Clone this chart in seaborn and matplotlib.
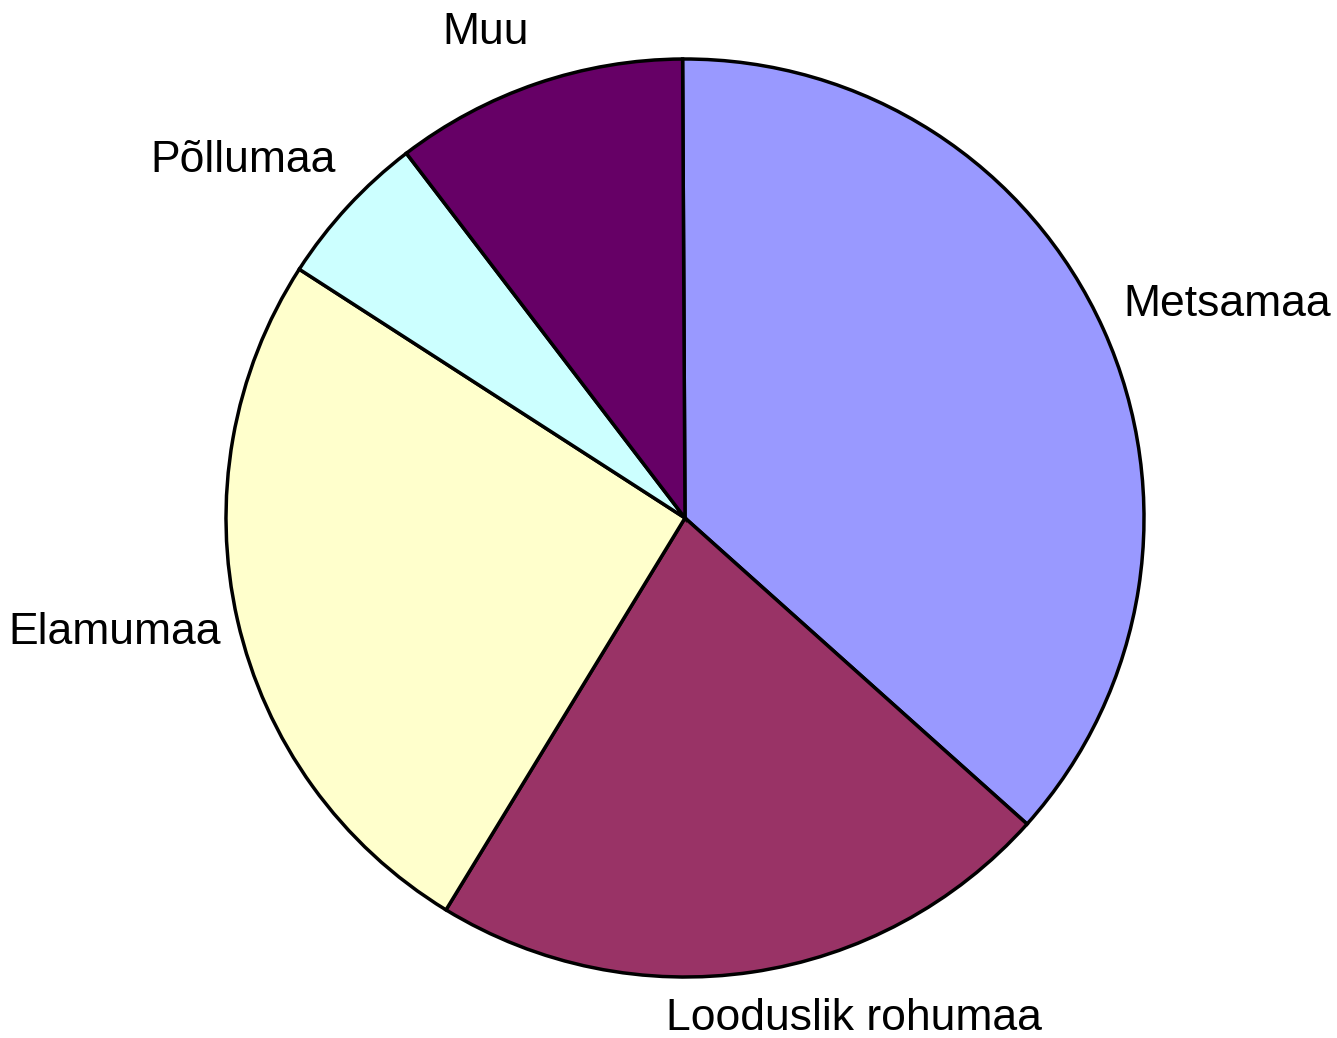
import matplotlib
matplotlib.use("Agg")
import matplotlib.pyplot as plt
import seaborn as sns

# ---- data ----
categories = ["Metsamaa", "Looduslik rohumaa", "Elamumaa", "Põllumaa", "Muu"]
values = [36.7, 22.1, 25.4, 5.5, 10.3]
colors = ["#9999FF", "#993366", "#FFFFCC", "#CCFFFF", "#660066"]

sns.set_theme(style="white")
plt.rcParams["font.family"] = ["Liberation Sans", "DejaVu Sans"]

W, H, DPI = 1337, 1038, 100
fig = plt.figure(figsize=(W / DPI, H / DPI), dpi=DPI)
ax = fig.add_axes([0, 0, 1, 1])

# layout: pie centre and radius in pixels
cx, cy, R = 685, 518, 459

wedges, texts = ax.pie(
    values,
    labels=categories,
    colors=colors,
    startangle=90.3,
    counterclock=False,
    radius=1,
    center=(0, 0),
    wedgeprops=dict(edgecolor="black", linewidth=2.5),
    textprops=dict(fontsize=32, color="black"),
)

ax.set_xlim(-cx / R, (W - cx) / R)
ax.set_ylim(-(H - cy) / R, cy / R)
ax.set_aspect("equal")
ax.axis("off")

# label placement (pixel centres, layout only)
label_px = [(1227, 305), (854, 1018), (115, 632), (243, 160), (486, 32)]
for t, (px, py) in zip(texts, label_px):
    t.set_position(((px - cx) / R, (cy - py) / R))
    t.set_ha("center")
    t.set_va("center")

fig.savefig("out.png", dpi=DPI, facecolor="white")
